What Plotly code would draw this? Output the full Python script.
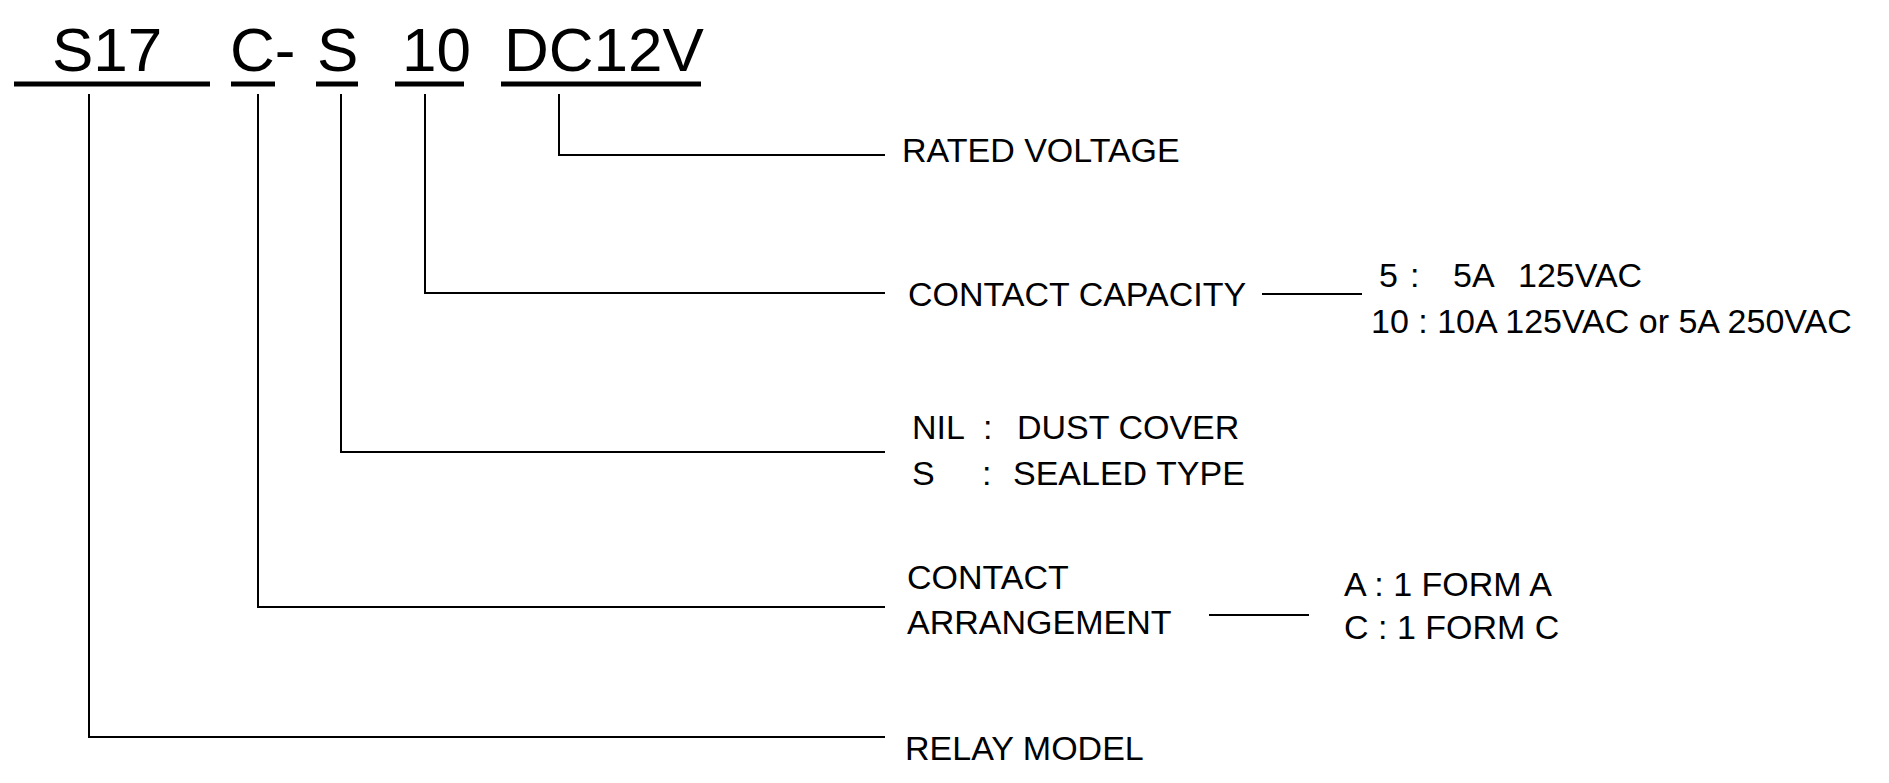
import plotly.graph_objects as go

W, H = 1889, 783
PAGE_MARGIN = 8  # default body margin of the html page

# Part-number segments
codes = ["S17", "C-", "S", "10", "DC12V"]
code_x = [50, 228, 315, 400, 502]
underline_x0 = [14, 231, 316, 395, 501]
underline_x1 = [210, 275, 358, 464, 701]
underline_y = 84
header_y = 49

# Leader lines (one per segment, same order)
leader_x = [89, 258, 341, 425, 559]
leader_y = [737, 607, 452, 293, 155]
leader_top = 94
leader_end = 885

# Description labels
label_text = ["RATED VOLTAGE", "CONTACT CAPACITY", "NIL", ":", "DUST COVER",
              "S", ":", "SEALED TYPE", "CONTACT", "ARRANGEMENT", "RELAY MODEL",
              "5", ":", "5A", "125VAC", "10 : 10A 125VAC or 5A 250VAC",
              "A : 1 FORM A", "C : 1 FORM C"]
label_x = [900, 906, 910, 981, 1015,
           910, 980, 1011, 905, 905, 903,
           1377, 1408, 1451, 1516, 1369,
           1342, 1342]
label_y = [150, 294, 427, 427, 427,
           473, 473, 473, 577, 622, 748,
           275, 275, 275, 275, 321,
           584, 627]

# Connector dashes to option lists
conn_x0 = [1262, 1209]
conn_x1 = [1362, 1309]
conn_y = [294, 615]

fig = go.Figure()

ux, uy = [], []
for a, b in zip(underline_x0, underline_x1):
    ux += [a, b, None]
    uy += [underline_y, underline_y, None]
fig.add_trace(go.Scatter(x=ux, y=uy, mode="lines",
                         line=dict(color="black", width=5), hoverinfo="skip"))

lx, ly = [], []
for x, y in zip(leader_x, leader_y):
    lx += [x, x, leader_end, None]
    ly += [leader_top, y, y, None]
for a, b, y in zip(conn_x0, conn_x1, conn_y):
    lx += [a, b, None]
    ly += [y, y, None]
fig.add_trace(go.Scatter(x=lx, y=ly, mode="lines",
                         line=dict(color="black", width=2), hoverinfo="skip"))

for t, x in zip(codes, code_x):
    fig.add_annotation(x=x, y=header_y, xref="x", yref="y", text=t,
                       showarrow=False, xanchor="left", yanchor="middle",
                       font=dict(family="Liberation Sans, Arial", size=62, color="black"))

for t, x, y in zip(label_text, label_x, label_y):
    fig.add_annotation(x=x, y=y, xref="x", yref="y", text=t,
                       showarrow=False, xanchor="left", yanchor="middle",
                       font=dict(family="Liberation Sans, Arial", size=34, color="black"))

fig.update_layout(
    width=W - PAGE_MARGIN, height=H - PAGE_MARGIN,
    margin=dict(l=0, r=0, t=0, b=0),
    paper_bgcolor="white", plot_bgcolor="white",
    showlegend=False,
    xaxis=dict(range=[PAGE_MARGIN, W], visible=False, fixedrange=True),
    yaxis=dict(range=[H, PAGE_MARGIN], visible=False, fixedrange=True),
)

fig.write_html("out.html")
